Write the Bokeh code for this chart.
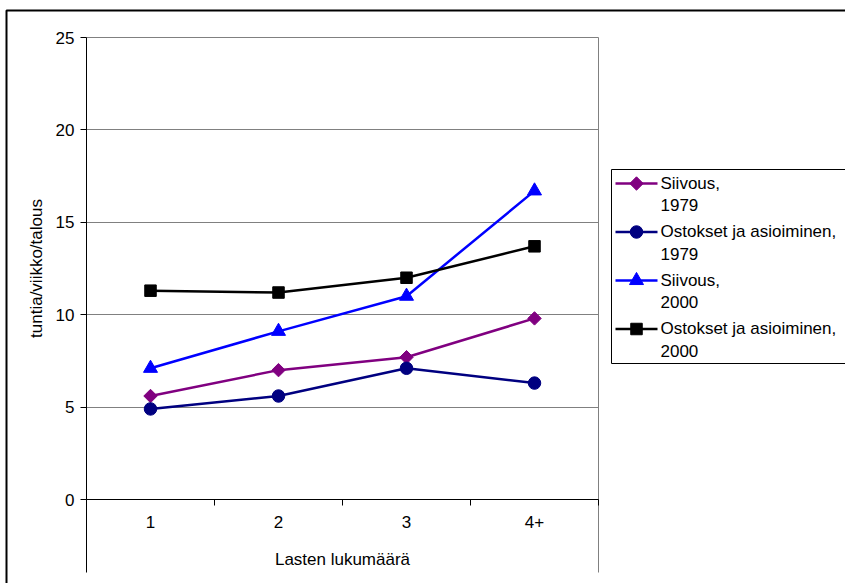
import math

from bokeh.plotting import figure
from bokeh.models import Range1d, FixedTicker, Grid
from bokeh.core.properties import value
from bokeh.embed import file_html
from bokeh.resources import INLINE

# Hours per week per household, by number of children
categories = ["1", "2", "3", "4+"]
siivous_1979 = [5.6, 7.0, 7.7, 9.8]
ostokset_1979 = [4.9, 5.6, 7.1, 6.3]
siivous_2000 = [7.1, 9.1, 11.0, 16.7]
ostokset_2000 = [11.3, 11.2, 12.0, 13.7]
series_labels = [
    "Siivous,\n1979",
    "Ostokset ja asioiminen,\n1979",
    "Siivous,\n2000",
    "Ostokset ja asioiminen,\n2000",
]
y_ticks = [0, 5, 10, 15, 20, 25]

FONT = "Liberation Sans"
FSIZE = "17px"
LINE_W = 2.5

# canvas geometry in pixels (the frame fills the whole canvas, axes are
# pinned inside it with fixed_location)
W, H = 845, 583
PLOT_L, PLOT_R, PLOT_T, PLOT_B = 86, 598, 37, 499  # plot area
EXT_B = 572                                        # boundary lines run down to here
BOX_L, BOX_T = 6, 10                               # chart-area border

px_per_x = (PLOT_R - PLOT_L) / len(categories)
px_per_y = (PLOT_B - PLOT_T) / (y_ticks[-1] - y_ticks[0])

xs = [i + 1 for i in range(len(categories))]
bounds = [i + 0.5 for i in range(len(categories) + 1)]


def dx(px):
    return bounds[0] + (px - PLOT_L) / px_per_x


def dy(py):
    return y_ticks[0] + (PLOT_B - py) / px_per_y


p = figure(
    width=W, height=H, output_backend="svg", toolbar_location=None,
    x_range=Range1d(dx(0), dx(W)), y_range=Range1d(dy(H), dy(0)),
    min_border=0, min_border_left=0, min_border_right=0,
    min_border_top=0, min_border_bottom=0,
    background_fill_color="white", border_fill_color="white",
)
p.outline_line_color = None

# chart-area border (right and bottom edges fall outside the canvas)
p.quad(left=dx(BOX_L), right=dx(W + 40), top=dy(BOX_T), bottom=dy(H + 40),
       fill_color=None, line_color="black", line_width=2)

# x axis on y = 0: labels at category centres, short ticks on boundaries
xa = p.xaxis[0]
xa.fixed_location = y_ticks[0]
xa.bounds = (bounds[0], bounds[-1])
xa.ticker = FixedTicker(ticks=xs, minor_ticks=bounds)
xa.major_label_overrides = {x: c for x, c in zip(xs, categories)}
xa.major_tick_out = 0
xa.major_tick_in = 0
xa.minor_tick_out = 6
xa.minor_tick_in = 0
xa.minor_tick_line_color = "black"
xa.axis_line_color = "black"
xa.major_label_standoff = 10
xa.axis_label = "Lasten lukumäärä"
xa.axis_label_standoff = 19

# y axis on the first category boundary
ya = p.yaxis[0]
ya.fixed_location = bounds[0]
ya.bounds = (y_ticks[0], y_ticks[-1])
ya.ticker = FixedTicker(ticks=y_ticks, minor_ticks=[])
ya.major_tick_out = 6
ya.major_tick_in = 0
ya.major_tick_line_color = "black"
ya.axis_line_color = "black"
ya.major_label_standoff = 6
ya.axis_label = "tuntia/viikko/talous"
ya.axis_label_standoff = 7

for ax in (xa, ya):
    ax.major_label_text_font = FONT
    ax.major_label_text_font_size = FSIZE
    ax.major_label_text_color = "black"
    ax.axis_label_text_font = FONT
    ax.axis_label_text_font_size = FSIZE
    ax.axis_label_text_font_style = "normal"
    ax.axis_label_text_color = "black"
    ax.axis_line_width = 1

# horizontal gridlines across the plot area (25 closes it at the top)
p.xgrid.visible = False
p.ygrid.ticker = FixedTicker(ticks=y_ticks[1:], minor_ticks=[])
p.ygrid.cross_bounds = (bounds[0], bounds[-1])
p.ygrid.grid_line_color = "#808080"
p.ygrid.grid_line_width = 1

# outer category boundaries: the left one continues the y axis below 0,
# the right one closes the plot area and runs down as well
p.add_layout(Grid(dimension=0, ticker=FixedTicker(ticks=[bounds[0]], minor_ticks=[]),
                  cross_bounds=(dy(EXT_B), y_ticks[0]),
                  grid_line_color="black", grid_line_width=1))
p.add_layout(Grid(dimension=0, ticker=FixedTicker(ticks=[bounds[-1]], minor_ticks=[]),
                  cross_bounds=(dy(EXT_B), y_ticks[-1]),
                  grid_line_color="#808080", grid_line_width=1))

styles = [
    ("#800080", "square", 9.5, math.pi / 4),
    ("#000080", "circle", 12.5, 0),
    ("#0000FF", "triangle", 14, 0),
    ("black", "square", 11.5, 0),
]
data = [siivous_1979, ostokset_1979, siivous_2000, ostokset_2000]

for vals, (color, marker, size, angle) in zip(data, styles):
    p.line(xs, vals, line_color=color, line_width=LINE_W)
    p.scatter(xs, vals, marker=marker, size=size, angle=angle,
              fill_color=color, line_color=color)

# legend box, running past the right edge of the canvas
LEG_L, LEG_T, LEG_B = 611, 169, 363
ROW0, ROW_STEP = LEG_T + 14, 48.5
p.quad(left=dx(LEG_L), right=dx(W + 20), top=dy(LEG_T), bottom=dy(LEG_B),
       fill_color="white", line_color="black", line_width=1)

for i, (label, (color, marker, size, angle)) in enumerate(zip(series_labels, styles)):
    cy = ROW0 + i * ROW_STEP
    p.segment(x0=dx(LEG_L + 4), x1=dx(LEG_L + 46), y0=dy(cy), y1=dy(cy),
              line_color=color, line_width=LINE_W)
    p.scatter([dx(LEG_L + 25)], [dy(cy)], marker=marker, size=size, angle=angle,
              fill_color=color, line_color=color)
    p.text([dx(LEG_L + 49)], [dy(cy - 10)], text=[label],
           text_font=value(FONT), text_font_size=FSIZE, text_color="black",
           text_baseline="top", text_align="left", text_line_height=1.2)

open("out.html", "w").write(file_html(p, INLINE))
